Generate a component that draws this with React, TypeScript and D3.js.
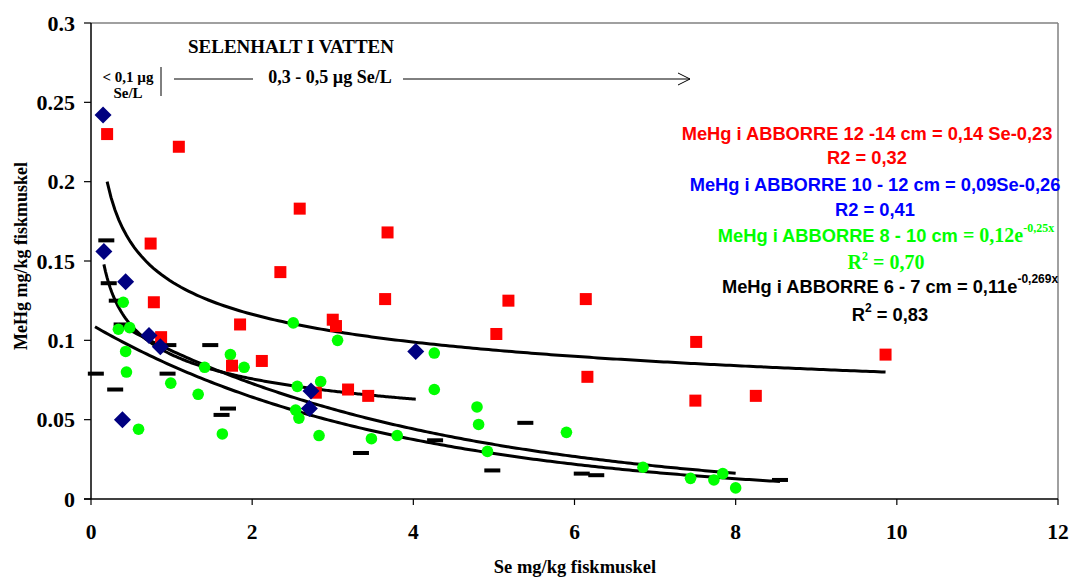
import React from "react";
import * as d3 from "d3";

// ---- data (Se mg/kg, MeHg mg/kg) ----
const perch12to14: [number, number][] = [
  [0.2, 0.23], [1.09, 0.222], [0.74, 0.161], [2.35, 0.143], [2.59, 0.183],
  [3.68, 0.168], [3.65, 0.126], [0.78, 0.124], [1.85, 0.11], [3.0, 0.113],
  [3.04, 0.109], [0.87, 0.102], [1.75, 0.084], [2.12, 0.087], [2.79, 0.067],
  [3.19, 0.069], [3.44, 0.065], [5.18, 0.125], [6.14, 0.126], [5.03, 0.104],
  [7.51, 0.099], [6.16, 0.077], [7.5, 0.062], [8.25, 0.065], [9.86, 0.091],
];
const perch10to12: [number, number][] = [
  [0.15, 0.242], [0.16, 0.156], [0.43, 0.137], [0.72, 0.103], [0.86, 0.096],
  [0.39, 0.05], [2.73, 0.068], [2.71, 0.057], [4.03, 0.093],
];
const perch8to10: [number, number][] = [
  [0.4, 0.124], [0.34, 0.107], [0.48, 0.108], [0.43, 0.093], [0.44, 0.08],
  [0.99, 0.073], [0.59, 0.044], [1.33, 0.066], [1.63, 0.041], [1.73, 0.091],
  [1.9, 0.083], [1.41, 0.083], [2.51, 0.111], [3.06, 0.1], [2.56, 0.071],
  [2.85, 0.074], [2.54, 0.056], [2.58, 0.051], [2.83, 0.04], [3.48, 0.038],
  [3.8, 0.04], [4.26, 0.092], [4.26, 0.069], [4.79, 0.058], [4.81, 0.047],
  [5.9, 0.042], [4.92, 0.03], [6.85, 0.02], [7.44, 0.013], [7.73, 0.012],
  [7.84, 0.016], [8.0, 0.007],
];
const perch6to7: [number, number][] = [
  [0.19, 0.163], [0.22, 0.136], [0.32, 0.125], [0.38, 0.11], [0.06, 0.079],
  [0.3, 0.069], [0.96, 0.097], [1.48, 0.097], [0.95, 0.079], [1.7, 0.057],
  [1.62, 0.053], [3.35, 0.029], [5.39, 0.048], [4.27, 0.037], [4.98, 0.018],
  [6.09, 0.016], [6.27, 0.015], [8.55, 0.012],
];

// trend lines (coefficients from the fitted equations)
const trendPower12to14 = { kind: "power", a: 0.137, b: -0.235, x0: 0.2, x1: 9.86 };
const trendPower10to12 = { kind: "power", a: 0.091, b: -0.265, x0: 0.16, x1: 4.03 };
const trendExp8to10 = { kind: "exp", a: 0.12, b: -0.25, x0: 0.34, x1: 8.0 };
const trendExp6to7 = { kind: "exp", a: 0.11, b: -0.269, x0: 0.05, x1: 8.55 };

const xTicks = [0, 2, 4, 6, 8, 10, 12];
const yTicks = [0, 0.05, 0.1, 0.15, 0.2, 0.25, 0.3];
const yTickLabels = ["0", "0.05", "0.1", "0.15", "0.2", "0.25", "0.3"];

const SERIF = "'Liberation Serif', 'Times New Roman', serif";
const SANS = "'Liberation Sans', Arial, sans-serif";

export default function App() {
  const W = 1073, H = 579;
  const x = d3.scaleLinear().domain([0, 12]).range([91, 1058]);
  const y = d3.scaleLinear().domain([0, 0.3]).range([499, 23]);

  const curve = (t: any) => {
    const xs = d3.range(0, 201).map((i) => t.x0 + ((t.x1 - t.x0) * i) / 200);
    const f = (v: number) => (t.kind === "power" ? t.a * Math.pow(v, t.b) : t.a * Math.exp(t.b * v));
    return d3.line<number>().x((v) => x(v)).y((v) => y(f(v)))(xs) || "";
  };
  const trends = [trendPower12to14, trendPower10to12, trendExp8to10, trendExp6to7];
  const diamond = "M0,-8.5L8.5,0L0,8.5L-8.5,0Z";
  const FS = 18.3;

  return (
    <svg width={W} height={H} style={{ position: "absolute", left: 0, top: 0, background: "#fff" }}>
      <rect x={0} y={0} width={W} height={H} fill="#fff" />
      {/* frame */}
      <line x1={91} x2={1058} y1={23} y2={23} stroke="#808080" strokeWidth={1.5} />
      <line x1={1058} x2={1058} y1={23} y2={499} stroke="#808080" strokeWidth={1.5} />
      {/* y axis */}
      <line x1={91} x2={91} y1={23} y2={499} stroke="#000" strokeWidth={1.5} />
      {yTicks.map((t, i) => (
        <g key={"yt" + i}>
          <line x1={84} x2={91} y1={y(t)} y2={y(t)} stroke="#000" strokeWidth={1.2} />
          <text x={75} y={y(t) + 7.5} textAnchor="end" fontFamily={SERIF} fontWeight="bold" fontSize={22}>
            {yTickLabels[i]}
          </text>
        </g>
      ))}
      {/* x axis */}
      <line x1={84} x2={1058} y1={499} y2={499} stroke="#000" strokeWidth={1.5} />
      {xTicks.map((t) => (
        <g key={"xt" + t}>
          <line x1={x(t)} x2={x(t)} y1={499} y2={505} stroke="#000" strokeWidth={1.2} />
          <text x={x(t)} y={539} textAnchor="middle" fontFamily={SERIF} fontWeight="bold" fontSize={21.5}>
            {t}
          </text>
        </g>
      ))}
      <text x={575} y={573} textAnchor="middle" fontFamily={SERIF} fontWeight="bold" fontSize={18.5}>
        Se mg/kg fiskmuskel
      </text>
      <text transform="translate(27,256) rotate(-90)" textAnchor="middle" fontFamily={SERIF} fontWeight="bold" fontSize={18}>
        MeHg mg/kg fiskmuskel
      </text>

      {/* annotation */}
      <text x={291} y={53} textAnchor="middle" fontFamily={SERIF} fontWeight="bold" fontSize={19}>
        SELENHALT I VATTEN
      </text>
      <text x={128} y={82} textAnchor="middle" fontFamily={SERIF} fontWeight="bold" fontSize={15}>
        {"< 0,1 µg"}
      </text>
      <text x={128} y={98} textAnchor="middle" fontFamily={SERIF} fontWeight="bold" fontSize={15}>
        Se/L
      </text>
      <line x1={161} x2={161} y1={67} y2={96} stroke="#000" strokeWidth={1} />
      <line x1={174} x2={253} y1={79} y2={79} stroke="#000" strokeWidth={1} />
      <text x={330} y={83} textAnchor="middle" fontFamily={SERIF} fontWeight="bold" fontSize={18}>
        0,3 - 0,5 µg Se/L
      </text>
      <line x1={403} x2={690} y1={79} y2={79} stroke="#000" strokeWidth={1} />
      <polyline points="678,73 690,79 678,85" fill="none" stroke="#000" strokeWidth={1} />

      {/* trend lines */}
      {trends.map((t, i) => (
        <path key={"tr" + i} d={curve(t)} fill="none" stroke="#000" strokeWidth={3} />
      ))}

      {/* markers */}
      {perch6to7.map((d, i) => (
        <rect key={"k" + i} x={x(d[0]) - 8} y={y(d[1]) - 2} width={16} height={4} fill="#000" />
      ))}
      {perch8to10.map((d, i) => (
        <circle key={"g" + i} cx={x(d[0])} cy={y(d[1])} r={5.8} fill="#00FF00" />
      ))}
      {perch12to14.map((d, i) => (
        <rect key={"r" + i} x={x(d[0]) - 6} y={y(d[1]) - 6} width={12} height={12} fill="#FF0000" />
      ))}
      {perch10to12.map((d, i) => (
        <path key={"b" + i} d={diamond} transform={`translate(${x(d[0])},${y(d[1])})`} fill="#000080" />
      ))}

      {/* equations */}
      <g fontWeight="bold" textAnchor="middle">
        <text x={867} y={140} fill="#FF0000" fontFamily={SANS} fontSize={FS}>
          MeHg i ABBORRE 12 -14 cm = 0,14 Se-0,23
        </text>
        <text x={867} y={164} fill="#FF0000" fontFamily={SANS} fontSize={FS}>
          R2 = 0,32
        </text>
        <text x={875} y={191} fill="#0000FF" fontFamily={SANS} fontSize={FS}>
          MeHg i ABBORRE 10 - 12 cm = 0,09Se-0,26
        </text>
        <text x={875} y={216} fill="#0000FF" fontFamily={SANS} fontSize={FS}>
          R2 = 0,41
        </text>
        <text x={886} y={242} fill="#00FF00" fontSize={FS}>
          <tspan fontFamily={SANS}>MeHg i ABBORRE 8 - 10 cm </tspan>
          <tspan fontFamily={SERIF} fontSize={20}>= 0,12e</tspan>
          <tspan fontFamily={SERIF} fontSize={12} dy={-10}>-0,25x</tspan>
        </text>
        <text x={886} y={269} fill="#00FF00" fontFamily={SERIF} fontSize={20}>
          <tspan>R</tspan>
          <tspan fontSize={12} dy={-9}>2</tspan>
          <tspan dy={9}> = 0,70</tspan>
        </text>
        <text x={890} y={293} fill="#000" fontFamily={SANS} fontSize={FS}>
          <tspan>MeHg i ABBORRE 6 - 7 cm = 0,11e</tspan>
          <tspan fontSize={12} dy={-10}>-0,269x</tspan>
        </text>
        <text x={890} y={321} fill="#000" fontFamily={SANS} fontSize={FS}>
          <tspan>R</tspan>
          <tspan fontSize={12} dy={-9}>2</tspan>
          <tspan dy={9}> = 0,83</tspan>
        </text>
      </g>
    </svg>
  );
}
